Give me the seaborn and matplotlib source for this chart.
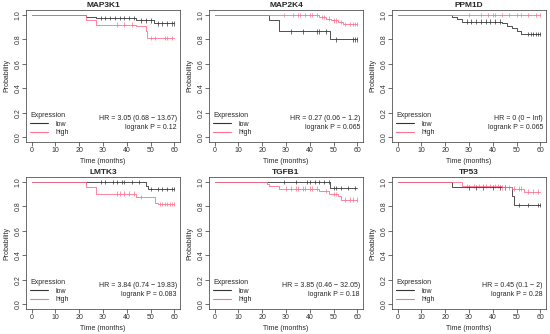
import numpy as np
import pandas as pd
import matplotlib
matplotlib.use("Agg")
import matplotlib.pyplot as plt
import seaborn as sns

# Kaplan-Meier curves per gene (step times / survival levels / censor times)
genes = ["MAP3K1", "MAP2K4", "PPM1D", "LMTK3", "TGFB1", "TP53"]

low_times = {
    "MAP3K1": [0, 23, 27, 44, 51.5, 60],
    "MAP2K4": [0, 23, 27, 48.5, 60],
    "PPM1D": [0, 23, 25, 27, 44, 46, 48, 50, 52, 60],
    "LMTK3": [0, 48, 49, 60],
    "TGFB1": [0, 48.5, 60],
    "TP53": [0, 23, 48, 49, 60],
}
low_surv = {
    "MAP3K1": [1.0, 0.985, 0.975, 0.955, 0.93, 0.93],
    "MAP2K4": [1.0, 0.955, 0.865, 0.8, 0.8],
    "PPM1D": [1.0, 0.985, 0.97, 0.945, 0.93, 0.91, 0.89, 0.87, 0.845, 0.845],
    "LMTK3": [1.0, 0.965, 0.94, 0.94],
    "TGFB1": [1.0, 0.952, 0.952],
    "TP53": [1.0, 0.955, 0.885, 0.81, 0.81],
}
low_cens = {
    "MAP3K1": [29, 31, 33, 35, 37, 39, 41, 43, 46, 48, 50, 53, 55, 57, 59, 60],
    "MAP2K4": [32, 37, 43, 44, 47, 51, 58, 59, 60],
    "PPM1D": [29, 31, 33, 35, 37, 39, 41, 43, 55, 56, 57, 58, 59, 60],
    "LMTK3": [29, 31, 34, 36, 38, 39, 42, 45, 50, 53, 55, 57, 59, 60],
    "TGFB1": [29, 34, 39, 40, 42, 44, 46, 48, 50, 51, 53, 56, 59],
    "TP53": [30, 33, 36, 40, 43, 45, 51, 55, 59, 60],
}

high_times = {
    "MAP3K1": [0, 23, 27, 44, 48, 48.5, 60],
    "MAP2K4": [0, 44, 47, 49, 52, 54, 60],
    "PPM1D": [0, 60],
    "LMTK3": [0, 23, 27, 44, 52, 53, 60],
    "TGFB1": [0, 22, 23, 27, 44, 48, 52, 53, 60],
    "TP53": [0, 27, 44, 48, 53, 60],
}
high_surv = {
    "MAP3K1": [1.0, 0.955, 0.92, 0.91, 0.87, 0.81, 0.81],
    "MAP2K4": [1.0, 0.985, 0.97, 0.955, 0.94, 0.925, 0.925],
    "PPM1D": [1.0, 1.0],
    "LMTK3": [1.0, 0.955, 0.905, 0.875, 0.825, 0.82, 0.82],
    "TGFB1": [1.0, 0.985, 0.97, 0.945, 0.925, 0.9, 0.885, 0.855, 0.855],
    "TP53": [1.0, 0.965, 0.955, 0.945, 0.92, 0.92],
}
high_cens = {
    "MAP3K1": [36, 39, 42, 50, 52, 56, 57, 59],
    "MAP2K4": [29, 33, 35, 36, 38, 40, 41, 43, 45, 46, 48, 50, 51, 53, 55, 57, 58, 59, 60],
    "PPM1D": [30, 35, 38, 40, 41, 44, 47, 50, 52, 55, 58, 60],
    "LMTK3": [36, 37, 39, 41, 43, 46, 54, 55, 56, 57, 58, 59, 60],
    "TGFB1": [30, 32, 34, 35, 37, 38, 40, 41, 43, 47, 50, 51, 55, 57, 58, 60],
    "TP53": [29, 32, 34, 36, 37, 39, 41, 42, 44, 45, 47, 49, 51, 52, 55, 57, 59],
}

hr_text = {
    "MAP3K1": "HR = 3.05 (0.68 \u2212 13.67)",
    "MAP2K4": "HR = 0.27 (0.06 \u2212 1.2)",
    "PPM1D": "HR = 0 (0 \u2212 Inf)",
    "LMTK3": "HR = 3.84 (0.74 \u2212 19.83)",
    "TGFB1": "HR = 3.85 (0.46 \u2212 32.05)",
    "TP53": "HR = 0.45 (0.1 \u2212 2)",
}
p_text = {
    "MAP3K1": "logrank P = 0.12",
    "MAP2K4": "logrank P = 0.065",
    "PPM1D": "logrank P = 0.065",
    "LMTK3": "logrank P = 0.083",
    "TGFB1": "logrank P = 0.18",
    "TP53": "logrank P = 0.28",
}

col_low = "#333333"
col_high = "#ff6f8c"

sns.set_style("white")
plt.rcParams["font.family"] = ["Liberation Sans", "DejaVu Sans"]
plt.rcParams["font.size"] = 5


def step_at(times, surv, t):
    idx = np.searchsorted(times, t, side="right") - 1
    return np.asarray(surv)[idx]


W, H = 550, 334
fig = plt.figure(figsize=(W / 100, H / 100), dpi=100)

for i, g in enumerate(genes):
    r, c = divmod(i, 3)
    x0 = c * 183 + 26
    y_top = r * 167 + 10
    ax = fig.add_axes([x0 / W, 1 - (y_top + 132) / H, 154 / W, 132 / H])

    curves = pd.concat([
        pd.DataFrame({"time": low_times[g], "surv": low_surv[g], "group": "low"}),
        pd.DataFrame({"time": high_times[g], "surv": high_surv[g], "group": "high"}),
    ])
    cens = pd.concat([
        pd.DataFrame({"time": low_cens[g],
                      "surv": step_at(low_times[g], low_surv[g], low_cens[g]),
                      "group": "low"}),
        pd.DataFrame({"time": high_cens[g],
                      "surv": step_at(high_times[g], high_surv[g], high_cens[g]),
                      "group": "high"}),
    ])
    pal = {"low": col_low, "high": col_high}
    sns.lineplot(data=curves, x="time", y="surv", hue="group", palette=pal,
                 estimator=None, sort=False, drawstyle="steps-post",
                 linewidth=0.6, ax=ax, legend=False)
    sns.scatterplot(data=cens, x="time", y="surv", hue="group", palette=pal,
                    marker="|", s=10, linewidth=0.5, ax=ax, legend=False)

    ax.set_xlim(-2.4, 62.4)
    ax.set_ylim(-0.04, 1.04)
    ax.set_xticks(np.arange(0, 61, 10))
    ax.set_yticks(np.arange(0, 1.01, 0.2))
    ax.set_yticklabels([f"{v:.1f}" for v in np.arange(0, 1.01, 0.2)],
                       rotation=90, va="center")
    for s in ax.spines.values():
        s.set_linewidth(0.5)
        s.set_color("#333333")
    ax.tick_params(axis="both", direction="out", length=2.6, width=0.5,
                   pad=0.8, labelsize=5, colors="#333333", bottom=True, left=True)
    ax.set_xlabel("Time (months)", fontsize=5, labelpad=3)
    ax.set_ylabel("Probability", fontsize=5, labelpad=3)
    ax.set_title(g, fontsize=6, fontweight="bold", pad=2.5)

    ax.text(0.98, 0.18, hr_text[g], transform=ax.transAxes, ha="right",
            va="center", fontsize=5)
    ax.text(0.98, 0.11, p_text[g], transform=ax.transAxes, ha="right",
            va="center", fontsize=5)

    h_low, = ax.plot([], [], color=col_low, lw=0.8)
    h_high, = ax.plot([], [], color=col_high, lw=0.8)
    ax.legend([h_low, h_high], ["low", "high"], title="Expression",
              loc="lower left", bbox_to_anchor=(-0.01, 0.0),
              frameon=False, fontsize=5, title_fontsize=5,
              handlelength=2.6, handletextpad=1.0, labelspacing=0.25,
              borderpad=0.3, alignment="left")

fig.savefig("out.png", dpi=100)
